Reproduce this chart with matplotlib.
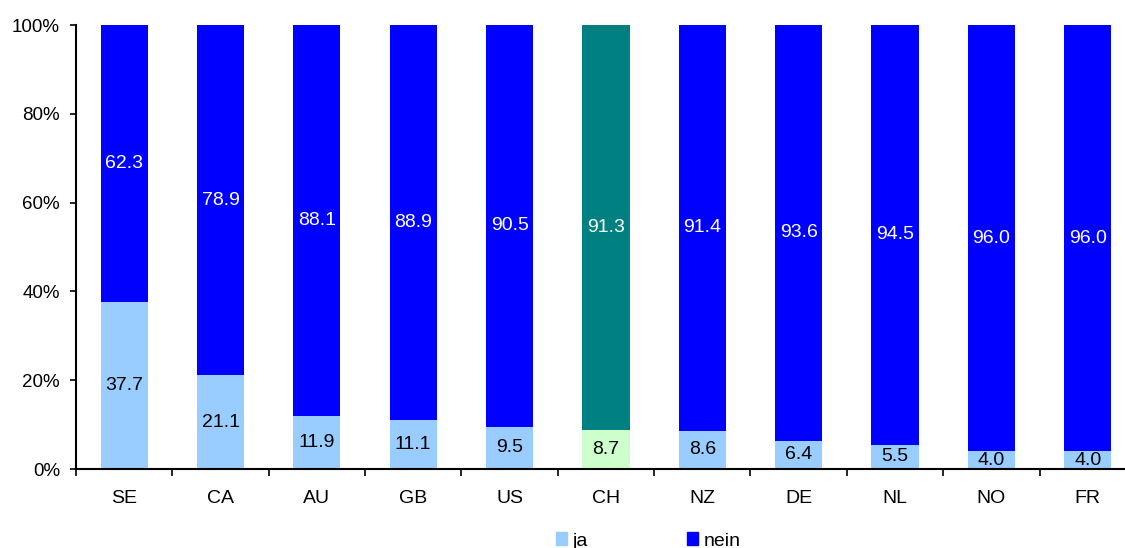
import numpy as np
import matplotlib
matplotlib.use("Agg")
import matplotlib.pyplot as plt
from matplotlib.ticker import PercentFormatter

# ==========================
# Data
# ==========================

countries = ["SE", "CA", "AU", "GB", "US", "CH", "NZ", "DE", "NL", "NO", "FR"]
ja = [37.7, 21.1, 11.9, 11.1, 9.5, 8.7, 8.6, 6.4, 5.5, 4.0, 4.0]
nein = [62.3, 78.9, 88.1, 88.9, 90.5, 91.3, 91.4, 93.6, 94.5, 96.0, 96.0]
highlight = "CH"

# ==========================
# Style
# ==========================

JA_COLOR = "#99CCFF"
NEIN_COLOR = "#0000FF"
JA_HL = "#CCFFCC"
NEIN_HL = "#008080"

plt.rcParams["font.family"] = ["Liberation Sans", "DejaVu Sans"]
plt.rcParams["font.size"] = 14

W, H = 1125, 548
fig = plt.figure(figsize=(W / 100, H / 100), dpi=100)
ax = fig.add_axes([76 / W, (H - 469) / H, (11 * 96.35) / W, 444 / H])

x = np.arange(len(countries))
ja_colors = [JA_HL if c == highlight else JA_COLOR for c in countries]
nein_colors = [NEIN_HL if c == highlight else NEIN_COLOR for c in countries]

bars_ja = ax.bar(x, ja, width=0.49, color=ja_colors, label="ja")
bars_nein = ax.bar(x, nein, width=0.49, bottom=ja, color=nein_colors, label="nein")

for i in range(len(countries)):
    ax.text(x[i], ja[i] / 2, f"{ja[i]:.1f}", ha="center", va="center",
            color="black", fontsize=14)
    ax.text(x[i], ja[i] + nein[i] / 2, f"{nein[i]:.1f}", ha="center", va="center",
            color="white", fontsize=14)

ax.set_xlim(-0.5, len(countries) - 0.5)
ax.set_ylim(0, 100)
ax.yaxis.set_major_formatter(PercentFormatter(decimals=0))
ax.set_yticks(np.arange(0, 101, 20))
ax.tick_params(axis="y", length=4.5, width=1.2, labelsize=13.5, pad=7)

# category labels centered, ticks at the category boundaries
ax.set_xticks(x)
ax.set_xticklabels(countries, fontsize=14)
ax.tick_params(axis="x", which="major", length=0, pad=15)
ax.set_xticks(np.arange(-0.5, len(countries), 1), minor=True)
ax.tick_params(axis="x", which="minor", length=5, width=1.2)

for side in ["top", "right"]:
    ax.spines[side].set_visible(False)
for side in ["left", "bottom"]:
    ax.spines[side].set_linewidth(1.5)

leg = fig.legend(handles=[bars_ja, bars_nein], labels=["ja", "nein"],
                 loc="center", bbox_to_anchor=(648 / W, 1 - 541 / H), ncol=2,
                 frameon=False, handlelength=0.6, handleheight=0.6,
                 handletextpad=0.25, columnspacing=5.1, fontsize=14,
                 borderpad=0)
# legend swatches use the standard colors
leg.legend_handles[0].set_color(JA_COLOR)
leg.legend_handles[1].set_color(NEIN_COLOR)

fig.savefig("out.png", dpi=100)
